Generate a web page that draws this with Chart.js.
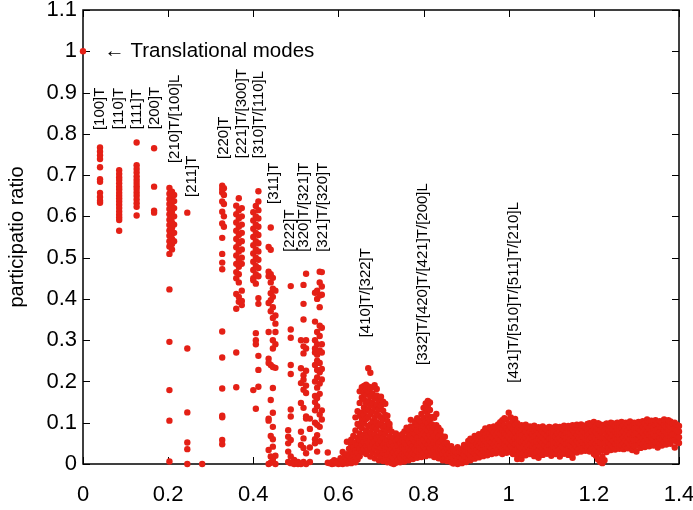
<!DOCTYPE html>
<html>
<head>
<meta charset="utf-8">
<script src="https://cdn.jsdelivr.net/npm/chart.js"></script>
<style>
  html, body { margin: 0; padding: 0; background: #fff; }
  #wrap { width: 693px; height: 510px; }
</style>
</head>
<body>
<div id="wrap"><canvas id="chart" width="693" height="510"></canvas></div>
<script>
// axis ticks
const xTicks = [0, 0.2, 0.4, 0.6, 0.8, 1, 1.2, 1.4];
const yTicks = [0, 0.1, 0.2, 0.3, 0.4, 0.5, 0.6, 0.7, 0.8, 0.9, 1, 1.1];

// translational modes
const translational = [[0, 1.0]];

// low frequency modes, one row per column: [x, y, y, ...]
const lowModes = [
  [0.040, 0.767, 0.757, 0.748, 0.739, 0.719, 0.690, 0.684, 0.657, 0.647, 0.638, 0.633],
  [0.085, 0.712, 0.703, 0.695, 0.688, 0.680, 0.672, 0.665, 0.657, 0.650, 0.643, 0.636, 0.628, 0.620, 0.612, 0.604, 0.597, 0.591, 0.565],
  [0.126, 0.779, 0.724, 0.715, 0.706, 0.697, 0.689, 0.681, 0.673, 0.666, 0.658, 0.650, 0.641, 0.632, 0.623, 0.602],
  [0.167, 0.765, 0.672, 0.614, 0.609],
  [0.203, 0.669, 0.655, 0.642, 0.630, 0.618, 0.605, 0.592, 0.579, 0.566, 0.553, 0.540, 0.527, 0.509, 0.423, 0.296, 0.179, 0.105, 0.006],
  [0.209, 0.660, 0.648, 0.636, 0.624, 0.611, 0.598, 0.585, 0.572, 0.559, 0.546, 0.533, 0.520],
  [0.214, 0.652, 0.637, 0.620, 0.600, 0.580, 0.560, 0.540],
  [0.245, 0.609, 0.280, 0.125, 0.052, 0.036, 0.0],
  [0.280, 0.0],
  [0.327, 0.674, 0.666, 0.658, 0.636, 0.611, 0.583, 0.548, 0.509, 0.488, 0.472, 0.321, 0.258, 0.183, 0.117, 0.113, 0.058, 0.048],
  [0.331, 0.668, 0.652, 0.630, 0.600, 0.575],
  [0.360, 0.626, 0.605, 0.585, 0.565, 0.545, 0.525, 0.505, 0.485, 0.465, 0.450, 0.412, 0.376, 0.270, 0.186],
  [0.366, 0.644, 0.615, 0.595, 0.575, 0.555, 0.535, 0.515, 0.495, 0.478, 0.460, 0.440, 0.405, 0.393],
  [0.373, 0.620, 0.600, 0.580, 0.560, 0.540, 0.520, 0.500, 0.485, 0.420, 0.395, 0.385],
  [0.400, 0.610, 0.590, 0.570, 0.550, 0.530, 0.510, 0.490, 0.470, 0.450, 0.445, 0.179],
  [0.406, 0.625, 0.600, 0.580, 0.560, 0.540, 0.520, 0.500, 0.480, 0.460, 0.437, 0.317, 0.300, 0.290, 0.134],
  [0.412, 0.661, 0.636, 0.615, 0.595, 0.575, 0.555, 0.535, 0.515, 0.495, 0.475, 0.455, 0.402, 0.388, 0.262, 0.228, 0.187],
  [0.436, 0.526, 0.466, 0.455, 0.390, 0.320, 0.255, 0.245, 0.110, 0.105, 0.034, 0.0],
  [0.441, 0.573, 0.519, 0.460, 0.440, 0.414, 0.397, 0.370, 0.240, 0.155, 0.068, 0.018, 0.003],
  [0.446, 0.451, 0.425, 0.405, 0.380, 0.354, 0.300, 0.280, 0.235, 0.184, 0.124, 0.090, 0.060, 0.042, 0.010],
  [0.452, 0.420, 0.360, 0.340, 0.320, 0.290, 0.233, 0.020, 0.0],
  [0.482, 0.082, 0.066, 0.050, 0.030, 0.005],
  [0.488, 0.431, 0.326, 0.306, 0.240, 0.218, 0.132, 0.115, 0.058, 0.018, 0.002],
  [0.496, 0.010, 0.0],
  [0.505, 0.005, 0.0],
  [0.512, 0.300, 0.232, 0.196, 0.148, 0.078, 0.046, 0.0],
  [0.518, 0.434, 0.388, 0.350, 0.285, 0.268, 0.215, 0.204, 0.180, 0.136, 0.062, 0.039, 0.005],
  [0.524, 0.461, 0.300, 0.280, 0.226, 0.190, 0.172, 0.115, 0.110, 0.026, 0.0],
  [0.533, 0.110, 0.085, 0.040, 0.005],
  [0.545, 0.415, 0.345, 0.300, 0.280, 0.270, 0.240, 0.200, 0.165, 0.150, 0.130, 0.100, 0.060, 0.050],
  [0.550, 0.420, 0.400, 0.320, 0.290, 0.265, 0.250, 0.228, 0.210, 0.185, 0.160, 0.140, 0.095, 0.070, 0.030],
  [0.556, 0.466, 0.440, 0.408, 0.380, 0.335, 0.310, 0.275, 0.245, 0.222, 0.195, 0.170, 0.120, 0.090, 0.055],
  [0.561, 0.465, 0.430, 0.410, 0.330, 0.290, 0.270, 0.230, 0.205, 0.130, 0.108],
  [0.575, 0.028, 0.003]
];

// dense high frequency band, one row per column: [x, y, y, ...]
const bandModes = [
  [0.580, 0.002], [0.585, 0.000, 0.005], [0.590, 0.001, 0.009], [0.595, 0.003],
  [0.600, 0.000, 0.007], [0.605, 0.002, 0.014], [0.610, 0.000, 0.009, 0.029], [0.615, 0.004, 0.018],
  [0.620, 0.001, 0.011, 0.024, 0.054], [0.625, 0.006, 0.019, 0.037],
  [0.630, 0.002, 0.013, 0.031, 0.047, 0.059], [0.635, 0.008, 0.023, 0.041, 0.068],
  [0.640, 0.004, 0.017, 0.033, 0.052, 0.081, 0.113],
  [0.645, 0.011, 0.027, 0.046, 0.063, 0.097, 0.128],
  [0.650, 0.019, 0.038, 0.058, 0.074, 0.092, 0.117, 0.148, 0.176],
  [0.655, 0.029, 0.047, 0.066, 0.087, 0.105, 0.124, 0.161, 0.186],
  [0.660, 0.036, 0.053, 0.071, 0.098, 0.118, 0.137, 0.156, 0.172, 0.189],
  [0.665, 0.024, 0.043, 0.062, 0.081, 0.109, 0.129, 0.147, 0.168, 0.181, 0.192],
  [0.670, 0.033, 0.051, 0.069, 0.092, 0.114, 0.133, 0.152, 0.176, 0.188, 0.232],
  [0.675, 0.018, 0.041, 0.057, 0.077, 0.096, 0.121, 0.141, 0.163, 0.184, 0.221],
  [0.680, 0.028, 0.046, 0.065, 0.086, 0.104, 0.127, 0.148, 0.171, 0.186],
  [0.685, 0.014, 0.037, 0.054, 0.072, 0.091, 0.113, 0.136, 0.158, 0.191],
  [0.690, 0.023, 0.044, 0.061, 0.083, 0.101, 0.122, 0.143, 0.166, 0.182],
  [0.695, 0.009, 0.031, 0.049, 0.068, 0.094, 0.117, 0.132, 0.155],
  [0.700, 0.018, 0.039, 0.057, 0.076, 0.098, 0.112, 0.141, 0.163],
  [0.705, 0.007, 0.026, 0.046, 0.064, 0.087, 0.108, 0.129, 0.151],
  [0.710, 0.014, 0.035, 0.052, 0.073, 0.093, 0.119, 0.146],
  [0.715, 0.004, 0.022, 0.041, 0.059, 0.081, 0.104, 0.117],
  [0.720, 0.011, 0.029, 0.048, 0.067, 0.088, 0.097],
  [0.725, 0.002, 0.019, 0.036, 0.054, 0.078],
  [0.730, 0.000, 0.013, 0.028, 0.044, 0.063],
  [0.735, 0.003, 0.021, 0.037, 0.056, 0.074],
  [0.740, 0.009, 0.026, 0.045, 0.061],
  [0.745, 0.004, 0.017, 0.033, 0.051, 0.069],
  [0.750, 0.011, 0.024, 0.041, 0.058, 0.072],
  [0.755, 0.006, 0.019, 0.036, 0.053, 0.079],
  [0.760, 0.014, 0.029, 0.046, 0.064, 0.088],
  [0.765, 0.009, 0.023, 0.039, 0.057, 0.074, 0.084],
  [0.770, 0.017, 0.033, 0.049, 0.068, 0.091, 0.107],
  [0.775, 0.012, 0.026, 0.043, 0.061, 0.079, 0.086],
  [0.780, 0.021, 0.037, 0.053, 0.072, 0.089, 0.101],
  [0.785, 0.015, 0.031, 0.047, 0.064, 0.082, 0.096, 0.111],
  [0.790, 0.024, 0.039, 0.056, 0.077, 0.093, 0.106],
  [0.795, 0.017, 0.034, 0.051, 0.068, 0.086, 0.102, 0.121],
  [0.800, 0.027, 0.043, 0.059, 0.074, 0.092, 0.112, 0.136],
  [0.805, 0.019, 0.036, 0.053, 0.069, 0.087, 0.104, 0.128, 0.147],
  [0.810, 0.029, 0.046, 0.062, 0.081, 0.098, 0.117, 0.141, 0.153],
  [0.815, 0.021, 0.038, 0.055, 0.071, 0.089, 0.108, 0.131, 0.149],
  [0.820, 0.027, 0.044, 0.061, 0.079, 0.096, 0.114],
  [0.825, 0.017, 0.034, 0.052, 0.068, 0.087, 0.112],
  [0.830, 0.024, 0.041, 0.058, 0.076, 0.094, 0.121],
  [0.835, 0.014, 0.031, 0.049, 0.066, 0.088],
  [0.840, 0.019, 0.036, 0.054, 0.071, 0.081],
  [0.845, 0.009, 0.026, 0.043, 0.059],
  [0.850, 0.014, 0.031, 0.049, 0.066],
  [0.855, 0.007, 0.022, 0.038, 0.051],
  [0.860, 0.011, 0.026, 0.041],
  [0.865, 0.004, 0.018, 0.033, 0.043],
  [0.870, 0.001, 0.014, 0.027, 0.036],
  [0.875, 0.007, 0.021, 0.031],
  [0.880, 0.000, 0.012, 0.026, 0.041],
  [0.885, 0.005, 0.017, 0.029],
  [0.890, 0.002, 0.014, 0.027, 0.036],
  [0.895, 0.009, 0.022, 0.037, 0.046],
  [0.900, 0.005, 0.018, 0.031, 0.042],
  [0.905, 0.013, 0.026, 0.041, 0.056],
  [0.910, 0.009, 0.022, 0.036, 0.049, 0.061],
  [0.915, 0.017, 0.031, 0.045, 0.058],
  [0.920, 0.013, 0.026, 0.039, 0.054, 0.068],
  [0.925, 0.021, 0.034, 0.048, 0.063],
  [0.930, 0.016, 0.029, 0.043, 0.057, 0.072],
  [0.935, 0.024, 0.038, 0.052, 0.066],
  [0.940, 0.019, 0.033, 0.047, 0.061, 0.078],
  [0.945, 0.027, 0.041, 0.055, 0.071, 0.086],
  [0.950, 0.021, 0.036, 0.049, 0.064, 0.081],
  [0.955, 0.029, 0.043, 0.058, 0.073, 0.089],
  [0.960, 0.024, 0.038, 0.052, 0.067, 0.083],
  [0.965, 0.031, 0.046, 0.061, 0.076, 0.091],
  [0.970, 0.026, 0.041, 0.055, 0.069, 0.087],
  [0.975, 0.034, 0.049, 0.063, 0.078, 0.096],
  [0.980, 0.028, 0.043, 0.057, 0.072, 0.089, 0.101],
  [0.985, 0.024, 0.037, 0.052, 0.067, 0.083, 0.106],
  [0.990, 0.033, 0.047, 0.061, 0.076, 0.094, 0.111],
  [0.995, 0.027, 0.041, 0.056, 0.071, 0.087, 0.108],
  [1.000, 0.036, 0.051, 0.066, 0.081, 0.098, 0.124],
  [1.005, 0.029, 0.044, 0.059, 0.074, 0.091, 0.113],
  [1.010, 0.024, 0.039, 0.053, 0.068, 0.084, 0.104],
  [1.015, 0.033, 0.048, 0.062, 0.077, 0.095, 0.109],
  [1.020, 0.012, 0.021, 0.036, 0.051, 0.066, 0.082, 0.099],
  [1.025, 0.029, 0.043, 0.058, 0.073, 0.089],
  [1.030, 0.012, 0.023, 0.038, 0.053, 0.068, 0.083, 0.094],
  [1.035, 0.027, 0.042, 0.057, 0.071, 0.087],
  [1.040, 0.021, 0.036, 0.049, 0.064, 0.079, 0.095],
  [1.045, 0.028, 0.043, 0.056, 0.071, 0.088],
  [1.050, 0.024, 0.033, 0.047, 0.062, 0.077, 0.091],
  [1.055, 0.031, 0.044, 0.059, 0.073, 0.086],
  [1.060, 0.019, 0.037, 0.052, 0.066, 0.081, 0.093],
  [1.065, 0.027, 0.041, 0.055, 0.069, 0.084],
  [1.070, 0.015, 0.032, 0.046, 0.061, 0.075, 0.089],
  [1.075, 0.029, 0.043, 0.057, 0.071, 0.086],
  [1.080, 0.022, 0.036, 0.051, 0.064, 0.079, 0.091],
  [1.085, 0.031, 0.045, 0.059, 0.074, 0.087],
  [1.090, 0.025, 0.039, 0.053, 0.067, 0.082],
  [1.095, 0.033, 0.047, 0.061, 0.076, 0.090],
  [1.100, 0.020, 0.034, 0.048, 0.063, 0.078, 0.088],
  [1.105, 0.028, 0.042, 0.056, 0.071, 0.085],
  [1.110, 0.024, 0.038, 0.052, 0.066, 0.081, 0.091],
  [1.115, 0.032, 0.046, 0.060, 0.074, 0.087],
  [1.120, 0.018, 0.035, 0.049, 0.063, 0.078, 0.090],
  [1.125, 0.029, 0.043, 0.057, 0.072, 0.086],
  [1.130, 0.025, 0.039, 0.053, 0.067, 0.082, 0.093],
  [1.135, 0.034, 0.048, 0.062, 0.076, 0.089],
  [1.140, 0.022, 0.037, 0.051, 0.065, 0.079, 0.092],
  [1.145, 0.030, 0.044, 0.058, 0.073, 0.088],
  [1.150, 0.015, 0.026, 0.041, 0.055, 0.069, 0.084, 0.094],
  [1.155, 0.035, 0.049, 0.063, 0.077, 0.091],
  [1.160, 0.028, 0.042, 0.056, 0.070, 0.085, 0.095],
  [1.165, 0.036, 0.050, 0.064, 0.078, 0.092],
  [1.170, 0.030, 0.044, 0.058, 0.073, 0.087, 0.096],
  [1.175, 0.038, 0.052, 0.066, 0.080, 0.093],
  [1.180, 0.032, 0.046, 0.060, 0.075, 0.089],
  [1.185, 0.039, 0.053, 0.068, 0.082, 0.097],
  [1.190, 0.030, 0.045, 0.059, 0.073, 0.088, 0.099],
  [1.195, 0.037, 0.051, 0.065, 0.079, 0.094],
  [1.200, 0.024, 0.039, 0.054, 0.068, 0.083, 0.102],
  [1.205, 0.020, 0.034, 0.048, 0.062, 0.077, 0.093],
  [1.210, 0.011, 0.028, 0.043, 0.057, 0.071, 0.086, 0.099],
  [1.215, 0.005, 0.038, 0.052, 0.066, 0.081, 0.096],
  [1.220, 0.002, 0.019, 0.034, 0.049, 0.063, 0.078, 0.091],
  [1.225, 0.009, 0.036, 0.051, 0.065, 0.080, 0.095],
  [1.230, 0.029, 0.044, 0.058, 0.072, 0.087, 0.098],
  [1.235, 0.039, 0.053, 0.067, 0.081, 0.096],
  [1.240, 0.034, 0.048, 0.062, 0.076, 0.091, 0.100],
  [1.245, 0.041, 0.055, 0.069, 0.083, 0.098],
  [1.250, 0.035, 0.049, 0.063, 0.078, 0.093],
  [1.255, 0.044, 0.058, 0.072, 0.086, 0.100],
  [1.260, 0.037, 0.051, 0.065, 0.080, 0.095],
  [1.265, 0.045, 0.059, 0.073, 0.088, 0.102],
  [1.270, 0.036, 0.050, 0.064, 0.079, 0.094],
  [1.275, 0.043, 0.057, 0.071, 0.086, 0.100],
  [1.280, 0.038, 0.052, 0.066, 0.081, 0.096],
  [1.285, 0.046, 0.060, 0.074, 0.089, 0.103],
  [1.290, 0.034, 0.049, 0.063, 0.077, 0.092],
  [1.295, 0.043, 0.057, 0.071, 0.085, 0.100],
  [1.300, 0.030, 0.045, 0.059, 0.074, 0.088, 0.099],
  [1.305, 0.044, 0.058, 0.072, 0.087, 0.102],
  [1.310, 0.039, 0.053, 0.067, 0.082, 0.097],
  [1.315, 0.048, 0.062, 0.076, 0.090, 0.104],
  [1.320, 0.041, 0.055, 0.069, 0.084, 0.099],
  [1.325, 0.049, 0.063, 0.077, 0.092, 0.108],
  [1.330, 0.043, 0.057, 0.071, 0.086, 0.101],
  [1.335, 0.051, 0.065, 0.079, 0.093, 0.105],
  [1.340, 0.045, 0.059, 0.073, 0.088, 0.103],
  [1.345, 0.053, 0.067, 0.081, 0.095, 0.106],
  [1.350, 0.040, 0.054, 0.068, 0.083, 0.099],
  [1.355, 0.049, 0.063, 0.077, 0.091, 0.104],
  [1.360, 0.045, 0.059, 0.073, 0.087, 0.102],
  [1.365, 0.053, 0.067, 0.081, 0.095, 0.108],
  [1.370, 0.047, 0.061, 0.075, 0.090, 0.104],
  [1.375, 0.055, 0.069, 0.083, 0.097, 0.106],
  [1.380, 0.049, 0.063, 0.077, 0.091, 0.103],
  [1.385, 0.057, 0.071, 0.085, 0.098],
  [1.390, 0.040, 0.058, 0.072, 0.086, 0.100],
  [1.395, 0.054, 0.068, 0.082, 0.095],
  [1.400, 0.051, 0.065, 0.079, 0.092]
];

// mode labels: text, anchor (data coords) at the start of the upward text
const modeLabels = [
  ['[100]T', 0.040, 0.809],
  ['[110]T', 0.085, 0.811],
  ['[111]T', 0.126, 0.811],
  ['[200]T', 0.169, 0.811],
  ['[210]T/[100]L', 0.216, 0.729],
  ['[211]T', 0.255, 0.647],
  ['[220]T', 0.331, 0.739],
  ['[221]T/[300]T', 0.373, 0.741],
  ['[310]T/[110]L', 0.412, 0.741],
  ['[311]T', 0.449, 0.630],
  ['[222]T', 0.486, 0.514],
  ['[320]T/[321]T', 0.519, 0.514],
  ['[321]T/[320]T', 0.563, 0.514],
  ['[410]T/[322]T', 0.665, 0.307],
  ['[332]T/[420]T/[421]T/[200]L', 0.799, 0.240],
  ['[431]T/[510]T/[511]T/[210]L', 1.012, 0.197]
];

const FONT = "'Liberation Sans', Arial, sans-serif";
const RED = 'rgb(228, 32, 22)';

function toPoints(rows) {
  return rows.flatMap(([x, ...ys]) => ys.map(y => ({ x, y })));
}

const allPoints = toPoints(translational).concat(toPoints(lowModes), toPoints(bandModes));

// frame, inward ticks (gnuplot style) and text annotations
const framePlugin = {
  id: 'frame',
  beforeDatasetsDraw(chart) {
    const { ctx, chartArea: a, scales: { x, y } } = chart;
    ctx.save();
    ctx.strokeStyle = '#000';
    ctx.lineWidth = 1.5;
    ctx.strokeRect(a.left, a.top, a.right - a.left, a.bottom - a.top);
    ctx.lineWidth = 1;
    const len = 7;
    ctx.beginPath();
    xTicks.forEach(v => {
      const px = Math.round(x.getPixelForValue(v)) + 0.5;
      ctx.moveTo(px, a.bottom); ctx.lineTo(px, a.bottom - len);
      ctx.moveTo(px, a.top); ctx.lineTo(px, a.top + len);
    });
    yTicks.forEach(v => {
      const py = Math.round(y.getPixelForValue(v)) + 0.5;
      ctx.moveTo(a.left, py); ctx.lineTo(a.left + len, py);
      ctx.moveTo(a.right, py); ctx.lineTo(a.right - len, py);
    });
    ctx.stroke();
    ctx.restore();
  },
  afterDatasetsDraw(chart) {
    const { ctx, scales: { x, y } } = chart;
    ctx.save();
    ctx.fillStyle = '#000';
    ctx.font = '20.5px ' + FONT;
    ctx.textBaseline = 'middle';
    ctx.textAlign = 'left';
    ctx.fillText('\u2190 Translational modes', x.getPixelForValue(0.05), y.getPixelForValue(1.0));

    ctx.font = '15px ' + FONT;
    modeLabels.forEach(([text, vx, vy]) => {
      ctx.save();
      ctx.translate(x.getPixelForValue(vx), y.getPixelForValue(vy));
      ctx.rotate(-Math.PI / 2);
      ctx.fillText(text, 0, 0);
      ctx.restore();
    });
    ctx.restore();
  }
};

new Chart(document.getElementById('chart'), {
  type: 'scatter',
  data: {
    datasets: [{
      data: allPoints,
      backgroundColor: RED,
      borderColor: RED,
      borderWidth: 0,
      pointRadius: 3.2,
      pointHoverRadius: 3.2,
      clip: false
    }]
  },
  options: {
    responsive: false,
    animation: false,
    events: [],
    layout: { padding: { top: 10, right: 14, left: 0, bottom: 0 } },
    plugins: { legend: { display: false }, tooltip: { enabled: false } },
    scales: {
      x: {
        type: 'linear',
        min: 0,
        max: 1.4,
        grid: { display: false, drawTicks: false },
        border: { display: false },
        afterBuildTicks: s => { s.ticks = xTicks.map(v => ({ value: v })); },
        afterFit: s => { s.height = 46; s.paddingLeft = 0; s.paddingRight = 0; },
        ticks: {
          padding: 18,
          color: '#000',
          maxRotation: 0,
          autoSkip: false,
          font: { family: FONT, size: 22 },
          callback: v => String(v)
        }
      },
      y: {
        type: 'linear',
        min: 0,
        max: 1.1,
        grid: { display: false, drawTicks: false },
        border: { display: false },
        afterBuildTicks: s => { s.ticks = yTicks.map(v => ({ value: v })); },
        afterFit: s => { s.width = 83; s.paddingTop = 0; s.paddingBottom = 0; },
        ticks: {
          padding: 6,
          color: '#000',
          autoSkip: false,
          font: { family: FONT, size: 22 },
          callback: v => String(v)
        },
        title: {
          display: true,
          text: 'participatio ratio',
          color: '#000',
          font: { family: FONT, size: 20 },
          padding: { top: 5, bottom: 0 }
        }
      }
    }
  },
  plugins: [framePlugin]
});
</script>
</body>
</html>
